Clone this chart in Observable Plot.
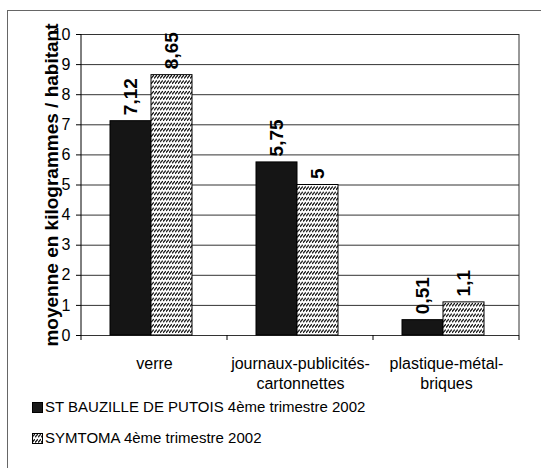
<!DOCTYPE html>
<html><head><meta charset="utf-8">
<script src="https://cdn.jsdelivr.net/npm/d3@7"></script>
<script src="https://cdn.jsdelivr.net/npm/@observablehq/plot@0.6"></script>
<style>
body{margin:0;background:#fff;}
#wrap{position:relative;width:541px;height:468px;overflow:hidden;background:#fff;font-family:"Liberation Sans",Arial,sans-serif;color:#000;}
#frame{position:absolute;left:7px;top:10px;width:700px;height:700px;border-left:1px solid #666;border-top:1px solid #666;box-sizing:border-box;}
#chart{position:absolute;left:0;top:0;}
#legend{position:absolute;left:32px;top:399px;font-size:15px;line-height:15px;}
.item{display:flex;align-items:center;height:15px;margin-bottom:16px;white-space:nowrap;}
.item svg{margin-right:2px;margin-top:1px;}
g[aria-label="y-axis label"] text{font-weight:bold;font-size:19px;}
</style></head><body>
<div id="wrap"><div id="frame"></div><div id="chart"></div><div id="legend"></div></div>
<script>
const categories = ["verre", "journaux-publicités-\ncartonnettes", "plastique-métal-\nbriques"];
const series = ["ST BAUZILLE DE PUTOIS 4ème trimestre 2002", "SYMTOMA 4ème trimestre 2002"];
const stBauzille = [7.12, 5.75, 0.51];
const symtoma = [8.65, 5, 1.1];
const yTicks = [0, 1, 2, 3, 4, 5, 6, 7, 8, 9, 10];
const yLabel = "moyenne en kilogrammes / habitant";

const data = categories.flatMap((c, i) => [
  {cat: c, s: series[0], v: stBauzille[i]},
  {cat: c, s: series[1], v: symtoma[i]}
]);
const fmt = v => String(v).replace(".", ",");

const plot = Plot.plot({
  width: 541, height: 390,
  marginLeft: 80, marginRight: 22, marginTop: 34, marginBottom: 55,
  style: {fontFamily: '"Liberation Sans", Arial, sans-serif', fontSize: "15px", color: "#000", background: "transparent", overflow: "visible"},
  fx: {domain: categories, padding: 0, axis: null},
  x: {domain: series, paddingInner: 0, paddingOuter: 0.74, align: 0.46, axis: null},
  y: {domain: [0, 10], axis: null},
  marks: [
    Plot.ruleY(yTicks, {stroke: "#333", strokeWidth: 1}),
    Plot.barY(data.filter(d => d.s === series[0]), {fx: "cat", x: "s", y: "v", fill: "#151515", stroke: "#000"}),
    Plot.barY(data.filter(d => d.s === series[1]), {fx: "cat", x: "s", y: "v", fill: "url(#hatch)", stroke: "#000"}),
    Plot.text(data, {fx: "cat", x: "s", y: "v", text: d => fmt(d.v), rotate: -90, textAnchor: "start", dy: -6, fontWeight: "bold", fontSize: 19}),
    Plot.text(categories, {fx: d => d, text: d => d, frameAnchor: "bottom", lineAnchor: "top", dy: 19, lineHeight: 1.25, fontSize: 16}),
    Plot.axisY({ticks: yTicks, tickSize: 5, tickPadding: 6, fontSize: 16, label: yLabel, labelAnchor: "center", labelOffset: 37, labelArrow: "none"})
  ]
});

// pattern + axis frame lines using the library scales
const svg = d3.select(plot);
const pat = svg.insert("defs", ":first-child").append("pattern")
  .attr("id", "hatch").attr("patternUnits", "userSpaceOnUse")
  .attr("width", 3).attr("height", 5.3);
pat.append("rect").attr("width", 3).attr("height", 5.3).attr("fill", "#fff");
pat.append("path").attr("d", "M0,4.2 L2.8,1").attr("stroke", "#000").attr("stroke-width", 1.2);

const fx = plot.scale("fx"), y = plot.scale("y");
const x0 = fx.apply(categories[0]);
const x1 = fx.apply(categories[categories.length - 1]) + fx.bandwidth;
const yTop = y.apply(10), yBot = y.apply(0);
const g = svg.append("g").attr("stroke", "#000").attr("stroke-width", 1);
g.append("line").attr("x1", x0).attr("x2", x0).attr("y1", yTop).attr("y2", yBot);
g.append("line").attr("x1", x1).attr("x2", x1).attr("y1", yTop).attr("y2", yBot).attr("stroke", "#333");
const bounds = categories.map(c => fx.apply(c)).concat([x1]);
bounds.forEach(b => g.append("line").attr("x1", b).attr("x2", b).attr("y1", yBot).attr("y2", yBot + 5));

document.getElementById("chart").appendChild(plot);

// legend
const leg = document.getElementById("legend");
series.forEach((s, i) => {
  const item = document.createElement("div");
  item.className = "item";
  const fill = i === 0 ? "#1a1a1a" : "url(#hatch)";
  item.innerHTML = `<svg width="11" height="11"><rect x="0.5" y="0.5" width="10" height="10" fill="${fill}" stroke="#000"/></svg><span>${s}</span>`;
  leg.appendChild(item);
});
</script>
</body></html>
